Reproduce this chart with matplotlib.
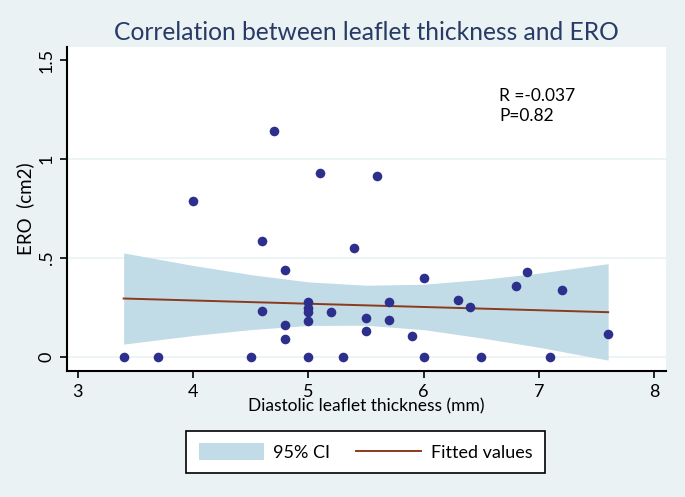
import numpy as np
import matplotlib.pyplot as plt
from matplotlib.patches import Patch
from matplotlib.lines import Line2D

plt.rcParams["font.family"] = ["Lato", "DejaVu Sans"]

# Data
thickness = [3.4, 3.7, 4.0, 4.5, 4.6, 4.6, 4.7, 4.8, 4.8, 4.8,
             5.0, 5.0, 5.0, 5.0, 5.0, 5.1, 5.2, 5.3, 5.4, 5.5,
             5.5, 5.6, 5.7, 5.7, 5.9, 6.0, 6.0, 6.3, 6.4, 6.5,
             6.8, 6.9, 7.1, 7.2, 7.6]
ero = [0.0, 0.0, 0.79, 0.0, 0.585, 0.235, 1.14, 0.44, 0.16, 0.09,
       0.28, 0.25, 0.23, 0.18, 0.0, 0.93, 0.23, 0.0, 0.55, 0.20,
       0.13, 0.915, 0.28, 0.19, 0.105, 0.40, 0.0, 0.29, 0.255, 0.0,
       0.36, 0.43, 0.0, 0.34, 0.115]

# fitted line and 95% CI band
fit_x = [3.4, 7.6]
fit_y = [0.296, 0.227]
ci_x = [3.4, 4.0, 4.5, 5.0, 5.5, 6.0, 6.5, 7.0, 7.6]
ci_upper = [0.526, 0.463, 0.417, 0.380, 0.363, 0.368, 0.392, 0.424, 0.472]
ci_lower = [0.066, 0.109, 0.139, 0.160, 0.161, 0.139, 0.097, 0.050, -0.015]

stats_text = ["R =-0.037", "P=0.82"]

bg = "#eaf2f3"
ci_col = "#c1dbe7"
fit_col = "#8b3a1e"

fig = plt.figure(figsize=(6.85, 4.97), dpi=100, facecolor=bg)
ax = fig.add_axes([0.098, 0.2535, 0.874, 0.652])
ax.set_facecolor("white")

ax.fill_between(ci_x, ci_lower, ci_upper, color=ci_col, lw=0, zorder=2)
ax.plot(fit_x, fit_y, color=fit_col, lw=1.4, zorder=3)
ax.scatter(thickness, ero, s=48, color="#2d2f8c", zorder=4, linewidths=0)

ax.set_xlim(2.91, 8.10)
ax.set_ylim(-0.07, 1.566)
ax.set_xticks([3, 4, 5, 6, 7, 8])
ax.set_yticks([0, 0.5, 1, 1.5])
ax.set_yticklabels(["0", ".5", "1", "1.5"], rotation=90, va="center")
for yv in [0, 0.5, 1]:
    ax.axhline(yv, color=bg, lw=1.2, zorder=1)

for side in ["top", "right"]:
    ax.spines[side].set_visible(False)
for side in ["left", "bottom"]:
    ax.spines[side].set_linewidth(1.5)
ax.tick_params(direction="out", length=5, width=1.2, labelsize=13, pad=4)

ax.set_xlabel("Diastolic leaflet thickness (mm)", fontsize=12.5, labelpad=-1)
ax.set_ylabel("ERO  (cm2)", fontsize=13.5, labelpad=3)
fig.text(0.535, 0.935, "Correlation between leaflet thickness and ERO",
         ha="center", va="center", fontsize=17.7, color="#283a66")

ax.text(6.65, 1.32, stats_text[0], fontsize=12.5, va="center")
ax.text(6.66, 1.215, stats_text[1], fontsize=12.5, va="center")

handles = [Patch(facecolor=ci_col, edgecolor="none"),
           Line2D([0], [0], color=fit_col, lw=1.4)]
leg = fig.legend(handles, ["95% CI", "Fitted values"], loc="center",
                 bbox_to_anchor=(0.5335, 0.0905), ncol=2, fontsize=13,
                 frameon=True, fancybox=False, edgecolor="black",
                 facecolor="white", framealpha=1,
                 handlelength=3.6, handleheight=1.05, columnspacing=1.4,
                 borderpad=0.7, handletextpad=0.55)
leg.get_frame().set_linewidth(1.2)

fig.savefig("out.png", dpi=100, facecolor=bg)
